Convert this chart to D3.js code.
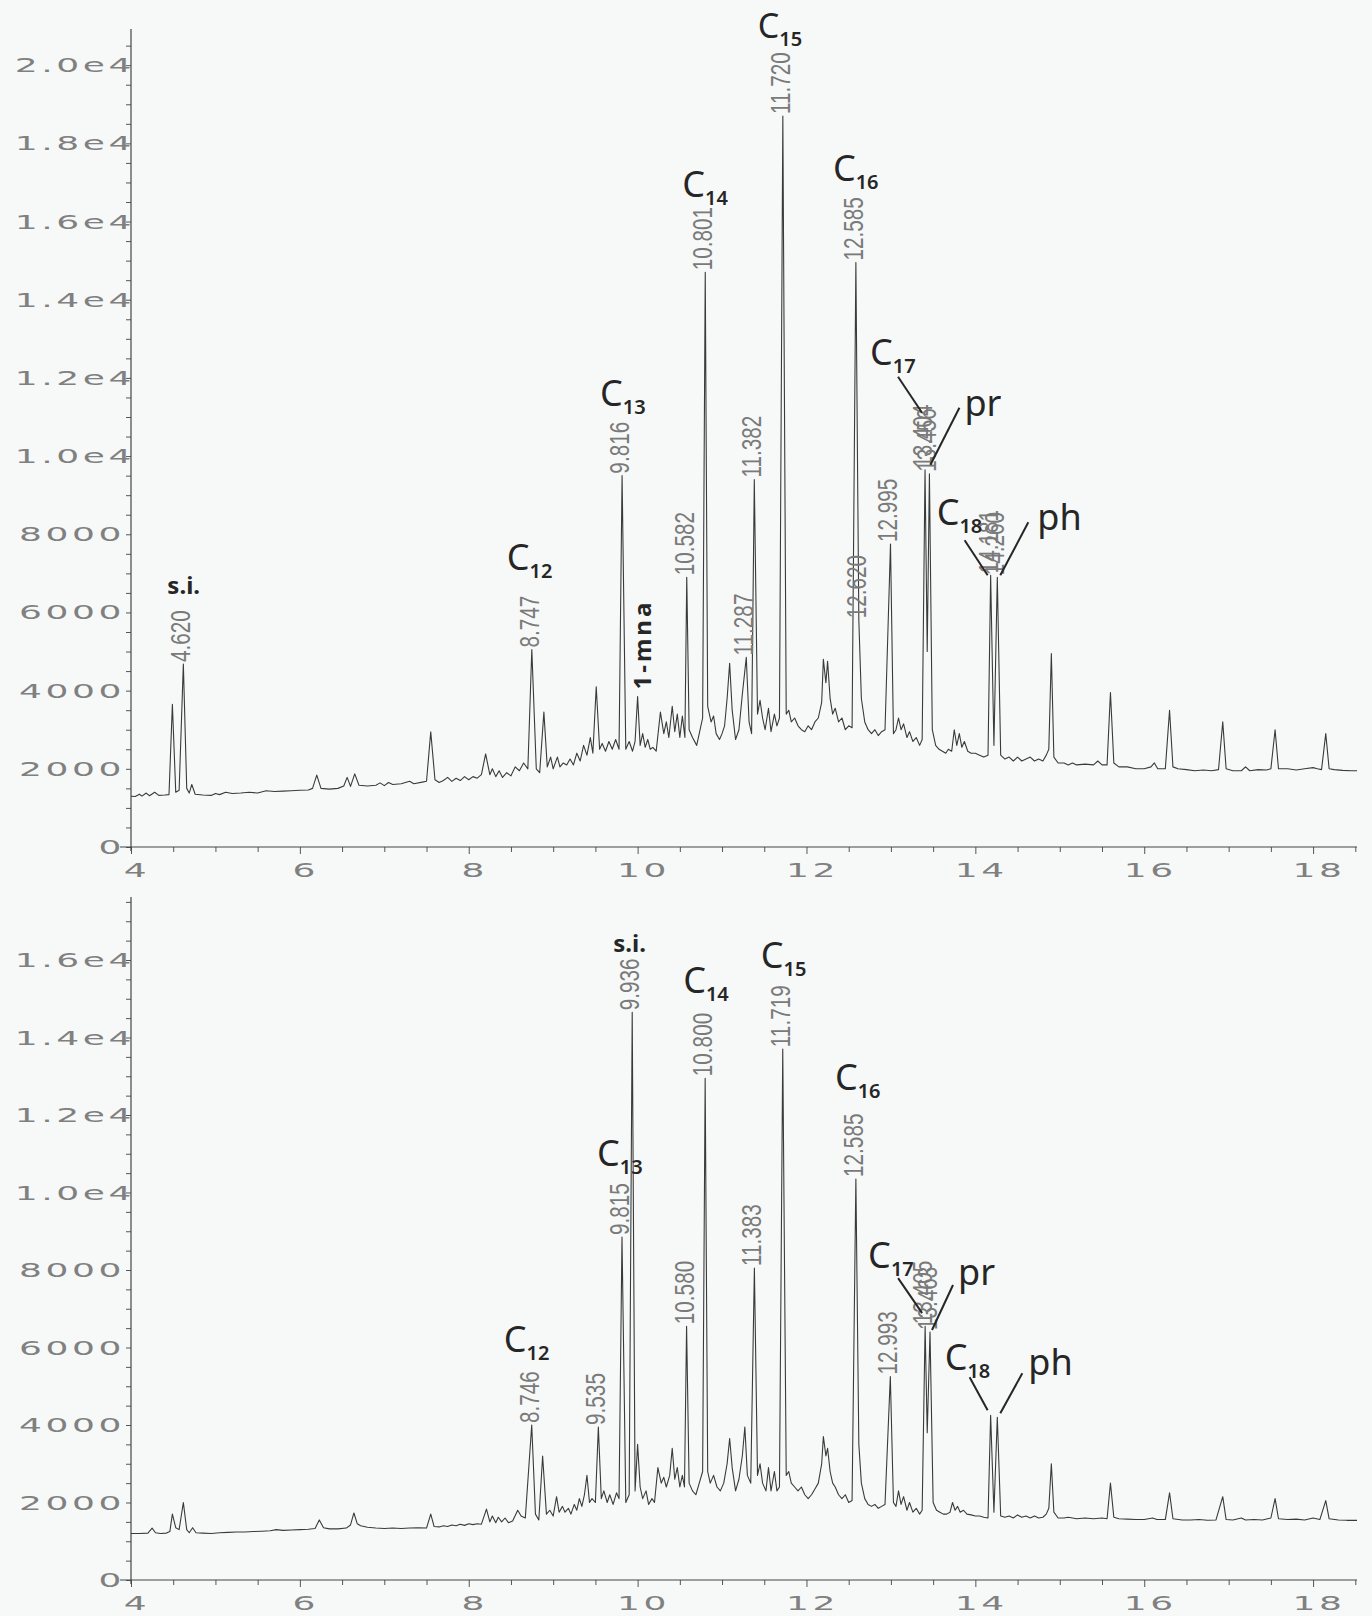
<!DOCTYPE html>
<html>
<head>
<meta charset="utf-8">
<script src="https://cdn.jsdelivr.net/npm/d3@7"></script>
<style>
body { margin: 0; background: #f7f9f8; }
</style>
</head>
<body>
<script>
// ---- data ----
var xTicks = [4, 6, 8, 10, 12, 14, 16, 18];
var topYTicks = [0, 2000, 4000, 6000, 8000, 10000, 12000, 14000, 16000, 18000, 20000];
var botYTicks = [0, 2000, 4000, 6000, 8000, 10000, 12000, 14000, 16000];

// [retention time (min), abundance]
var topTrace = [
[4.00,1300],[4.05,1290],[4.10,1350],[4.13,1300],[4.18,1380],[4.22,1310],[4.28,1400],[4.33,1320],[4.40,1330],[4.45,1340],
[4.49,3650],[4.53,1400],[4.57,1450],[4.62,4680],[4.66,1500],[4.69,1380],[4.72,1600],[4.76,1350],[4.85,1330],[4.95,1320],
[5.00,1370],[5.05,1340],[5.12,1400],[5.20,1370],[5.30,1380],[5.40,1400],[5.50,1380],[5.60,1440],[5.70,1420],[5.80,1430],
[5.90,1440],[6.00,1450],[6.10,1460],[6.15,1500],[6.20,1840],[6.25,1500],[6.35,1480],[6.45,1500],[6.52,1560],[6.56,1780],
[6.60,1550],[6.65,1870],[6.70,1580],[6.80,1560],[6.90,1580],[6.95,1640],[7.00,1570],[7.05,1650],[7.10,1600],[7.20,1620],
[7.30,1680],[7.35,1620],[7.45,1660],[7.50,1680],[7.55,2950],[7.60,1720],[7.65,1650],[7.70,1700],[7.75,1780],[7.80,1680],
[7.85,1760],[7.90,1700],[7.95,1800],[8.00,1720],[8.05,1800],[8.10,1760],[8.15,1850],[8.20,2380],[8.25,1850],[8.28,2000],
[8.32,1800],[8.36,1950],[8.40,1780],[8.45,1900],[8.50,1820],[8.55,2050],[8.60,1950],[8.65,2150],[8.70,2000],[8.747,5050],
[8.80,2000],[8.84,1900],[8.89,3450],[8.93,2050],[8.97,2300],[9.00,2000],[9.05,2300],[9.08,2050],[9.12,2150],[9.16,2100],
[9.20,2250],[9.24,2100],[9.28,2400],[9.32,2200],[9.36,2600],[9.40,2350],[9.44,2800],[9.47,2400],[9.51,4100],[9.55,2500],
[9.58,2650],[9.62,2450],[9.66,2700],[9.70,2500],[9.74,2750],[9.78,2500],[9.816,9500],[9.86,2500],[9.90,2700],[9.94,2450],
[9.97,2700],[10.00,3850],[10.03,2600],[10.06,2900],[10.09,2550],[10.12,2750],[10.15,2500],[10.18,2550],[10.22,2450],[10.27,3450],
[10.31,2900],[10.34,3200],[10.37,2800],[10.41,3600],[10.44,2950],[10.47,3400],[10.50,2800],[10.53,3350],[10.56,2800],[10.582,6900],
[10.61,3000],[10.65,2800],[10.70,2600],[10.74,3000],[10.77,3300],[10.801,14700],[10.83,3600],[10.87,3200],[10.90,3350],[10.93,2900],
[10.97,2750],[11.00,2900],[11.03,3100],[11.06,3800],[11.09,4700],[11.12,3500],[11.16,2750],[11.20,3000],[11.24,3900],[11.287,4850],
[11.32,3200],[11.35,2900],[11.382,9400],[11.42,3400],[11.45,3750],[11.48,3300],[11.51,3000],[11.55,3550],[11.58,2950],[11.62,3400],
[11.65,3100],[11.68,3300],[11.720,18700],[11.76,3400],[11.79,3500],[11.82,3200],[11.86,3300],[11.90,3100],[11.94,3000],[11.98,2950],
[12.02,3100],[12.06,3000],[12.10,3200],[12.14,3300],[12.18,3700],[12.20,4800],[12.23,4200],[12.25,4750],[12.28,3800],[12.31,3400],
[12.34,3550],[12.38,3200],[12.42,3300],[12.46,3000],[12.50,3100],[12.54,3050],[12.585,14950],[12.62,5800],[12.65,3800],[12.69,3200],
[12.73,3000],[12.77,2900],[12.81,3000],[12.85,2850],[12.89,2950],[12.93,3000],[12.995,7750],[13.03,2900],[13.06,3000],[13.09,3300],
[13.12,3000],[13.15,3150],[13.19,2800],[13.22,2950],[13.26,2700],[13.30,2800],[13.34,2600],[13.37,2750],[13.404,9650],[13.43,5000],
[13.456,9550],[13.49,3000],[13.53,2600],[13.57,2500],[13.61,2450],[13.65,2400],[13.68,2500],[13.72,2450],[13.75,3000],[13.78,2600],
[13.81,2900],[13.84,2550],[13.87,2700],[13.91,2450],[13.95,2400],[14.00,2400],[14.05,2350],[14.10,2300],[14.15,2350],[14.181,6950],
[14.22,2600],[14.260,6900],[14.30,2350],[14.35,2250],[14.40,2300],[14.45,2200],[14.50,2300],[14.55,2200],[14.60,2250],[14.65,2300],
[14.70,2200],[14.75,2250],[14.80,2200],[14.84,2350],[14.87,2500],[14.90,4950],[14.93,2300],[14.98,2150],[15.05,2150],[15.10,2100],
[15.15,2150],[15.20,2100],[15.30,2120],[15.40,2100],[15.45,2200],[15.50,2100],[15.56,2100],[15.60,3950],[15.64,2150],[15.70,2050],
[15.80,2050],[15.90,2000],[16.00,2000],[16.08,2050],[16.12,2150],[16.16,2000],[16.25,2000],[16.30,3500],[16.34,2050],[16.40,2000],
[16.50,1980],[16.60,1950],[16.70,1970],[16.80,1950],[16.88,1980],[16.93,3200],[16.97,2000],[17.05,1950],[17.15,1950],[17.20,2050],
[17.25,1950],[17.35,1980],[17.45,1970],[17.50,2000],[17.55,3000],[17.59,2000],[17.70,2000],[17.80,1970],[17.90,2000],[18.00,2030],
[18.05,2000],[18.10,1980],[18.15,2900],[18.19,2000],[18.25,1980],[18.35,1960],[18.45,1950],[18.52,1950]
];

var botTrace = [
[4.00,1200],[4.10,1200],[4.20,1210],[4.25,1340],[4.29,1220],[4.35,1200],[4.42,1210],[4.46,1250],[4.49,1700],[4.53,1350],
[4.57,1300],[4.62,2000],[4.66,1300],[4.69,1220],[4.73,1350],[4.77,1220],[4.85,1210],[4.95,1200],[5.05,1220],[5.15,1230],
[5.25,1240],[5.35,1240],[5.45,1250],[5.55,1260],[5.65,1270],[5.72,1300],[5.80,1280],[5.90,1290],[6.00,1300],[6.10,1310],
[6.18,1330],[6.23,1550],[6.28,1350],[6.35,1320],[6.45,1320],[6.55,1340],[6.60,1420],[6.64,1730],[6.68,1450],[6.72,1400],
[6.80,1360],[6.90,1340],[7.00,1330],[7.10,1340],[7.20,1330],[7.30,1340],[7.40,1350],[7.50,1340],[7.55,1700],[7.59,1380],
[7.65,1370],[7.70,1400],[7.75,1380],[7.80,1420],[7.85,1400],[7.90,1440],[7.95,1410],[8.00,1450],[8.05,1430],[8.10,1450],
[8.15,1440],[8.21,1830],[8.25,1500],[8.28,1650],[8.32,1480],[8.35,1620],[8.39,1500],[8.43,1600],[8.47,1480],[8.52,1520],
[8.58,1800],[8.62,1650],[8.67,1600],[8.746,4000],[8.79,1700],[8.83,1550],[8.875,3200],[8.92,1700],[8.96,1800],[9.00,1650],
[9.04,2150],[9.07,1750],[9.11,1900],[9.14,1750],[9.18,1850],[9.21,1700],[9.25,1950],[9.28,1800],[9.31,2100],[9.34,1900],
[9.37,2200],[9.40,2700],[9.43,2000],[9.46,2100],[9.50,2000],[9.535,3950],[9.57,2100],[9.60,2300],[9.64,2000],[9.67,2200],
[9.71,1950],[9.75,2250],[9.78,2100],[9.815,8850],[9.86,2000],[9.90,2200],[9.936,14650],[9.97,2300],[10.00,3500],[10.03,2400],
[10.06,2100],[10.10,2300],[10.13,1950],[10.17,2100],[10.20,2000],[10.24,2900],[10.28,2500],[10.31,2650],[10.34,2400],[10.38,2700],
[10.41,3400],[10.44,2600],[10.47,2900],[10.50,2400],[10.53,2700],[10.555,2400],[10.580,6550],[10.61,2500],[10.65,2300],[10.69,2200],
[10.73,2500],[10.77,2800],[10.800,12950],[10.83,2800],[10.86,2500],[10.90,2700],[10.94,2400],[10.98,2300],[11.02,2500],[11.06,3000],
[11.09,3650],[11.12,2900],[11.16,2300],[11.20,2600],[11.24,3200],[11.27,3950],[11.30,2700],[11.34,2500],[11.383,8050],[11.42,2700],
[11.45,3000],[11.48,2500],[11.52,2300],[11.55,2900],[11.58,2300],[11.62,2800],[11.65,2300],[11.68,2400],[11.719,13700],[11.76,2700],
[11.79,2800],[11.82,2500],[11.86,2400],[11.90,2300],[11.94,2400],[11.98,2200],[12.02,2100],[12.06,2200],[12.10,2350],[12.14,2500],
[12.18,3000],[12.20,3700],[12.23,3200],[12.25,3400],[12.28,2800],[12.31,2500],[12.34,2400],[12.38,2200],[12.42,2100],[12.46,2200],
[12.50,2000],[12.54,2050],[12.585,10350],[12.62,3500],[12.65,2500],[12.69,2100],[12.73,1950],[12.77,1900],[12.81,1950],[12.85,1850],
[12.89,1900],[12.93,1950],[12.993,5250],[13.03,2000],[13.06,1900],[13.09,2300],[13.12,1950],[13.15,2150],[13.19,1800],[13.22,2000],
[13.26,1750],[13.30,1850],[13.34,1700],[13.37,1800],[13.405,6550],[13.43,3800],[13.463,6400],[13.50,2000],[13.54,1800],[13.58,1750],
[13.62,1700],[13.66,1700],[13.70,1750],[13.73,2000],[13.76,1800],[13.79,1900],[13.82,1750],[13.86,1800],[13.90,1700],[13.95,1680],
[14.00,1650],[14.05,1650],[14.10,1620],[14.15,1600],[14.181,4250],[14.22,1750],[14.260,4200],[14.30,1650],[14.35,1620],[14.40,1650],
[14.45,1600],[14.50,1680],[14.55,1620],[14.60,1650],[14.65,1600],[14.70,1650],[14.75,1600],[14.80,1620],[14.84,1700],[14.87,1850],
[14.90,3000],[14.93,1750],[14.98,1600],[15.05,1600],[15.10,1620],[15.20,1580],[15.30,1600],[15.40,1580],[15.50,1600],[15.56,1580],
[15.60,2500],[15.64,1620],[15.70,1580],[15.80,1570],[15.90,1560],[16.00,1560],[16.10,1600],[16.15,1560],[16.25,1560],[16.30,2250],
[16.34,1580],[16.45,1550],[16.55,1550],[16.65,1560],[16.75,1540],[16.85,1550],[16.93,2150],[16.97,1560],[17.05,1550],[17.15,1600],
[17.20,1550],[17.30,1560],[17.40,1550],[17.50,1600],[17.55,2100],[17.59,1580],[17.70,1560],[17.80,1570],[17.90,1550],[18.00,1600],
[18.08,1560],[18.15,2050],[18.19,1580],[18.30,1550],[18.40,1540],[18.52,1540]
];

var topPeakLabels = ["4.620", "8.747", "9.816", "10.582", "10.801", "11.287", "11.382", "11.720", "12.585", "12.620", "12.995", "13.404", "13.456", "14.181", "14.260"];
var botPeakLabels = ["8.746", "9.535", "9.815", "9.936", "10.580", "10.800", "11.383", "11.719", "12.585", "12.993", "13.405", "13.463"];

// handwritten notes: [text, subscript, peak they point to]
var topNotes = [["s.i.", "", "4.620"], ["C", "12", "8.747"], ["1-mna", "", "10.00"], ["C", "13", "9.816"], ["C", "14", "10.801"],
  ["C", "15", "11.720"], ["C", "16", "12.585"], ["C", "17", "13.404"], ["pr", "", "13.456"], ["C", "18", "14.181"], ["ph", "", "14.260"]];
var botNotes = [["s.i.", "", "9.936"], ["C", "12", "8.746"], ["C", "13", "9.815"], ["C", "14", "10.800"], ["C", "15", "11.719"],
  ["C", "16", "12.585"], ["C", "17", "13.405"], ["pr", "", "13.463"], ["C", "18", "14.181"], ["ph", "", "14.260"]];

// ---- layout (pixel offsets of the notes relative to their peak top) ----
var topNoteLayout = [
  {dx: -16, dy: -70, size: 24}, {dx: -25, dy: -80, size: 36}, {dx: 13, dy: -7, size: 24, rotate: true},
  {dx: -22, dy: -70, size: 36}, {dx: -23, dy: -75, size: 36}, {dx: -25, dy: -78, size: 34}, {dx: -23, dy: -82, size: 36},
  {dx: -55, dy: -105, size: 36, leader: [-27, -93, -3, -57]}, {dx: 35, dy: -58, size: 36, leader: [30, -66, 1, -9]},
  {dx: -54, dy: -50, size: 36, leader: [-26, -35, -3, 0]}, {dx: 40, dy: -47, size: 36, leader: [31, -55, 3, -2]}
];
var botNoteLayout = [
  {dx: -19, dy: -60, size: 24}, {dx: -28, dy: -73, size: 36}, {dx: -25, dy: -71, size: 36}, {dx: -22, dy: -85, size: 36},
  {dx: -22, dy: -81, size: 36}, {dx: -21, dy: -89, size: 36},
  {dx: -57, dy: -58, size: 36, leader: [-27, -48, -3, -13]}, {dx: 28, dy: -47, size: 36, leader: [23, -47, 2, -2]},
  {dx: -46, dy: -45, size: 36, leader: [-21, -38, -3, -5]}, {dx: 31, dy: -42, size: 36, leader: [25, -44, 3, -4]}
];

var svg = d3.select("body").append("svg")
  .attr("width", 1372)
  .attr("height", 1616)
  .style("display", "block");

svg.append("rect").attr("width", 1372).attr("height", 1616).attr("fill", "#f7f9f8");

function yFmt(v) {
  return v >= 10000 ? (v / 10000).toFixed(1) + "e4" : String(v);
}

function valueAt(trace, t) {
  var best = trace[0];
  trace.forEach(function(p) { if (Math.abs(p[0] - t) < Math.abs(best[0] - t)) best = p; });
  return best[1];
}

function drawPanel(cfg) {
  var g = svg.append("g");
  var x = d3.scaleLinear().domain([4, 18.52]).range([131, 1357]);
  var y = d3.scaleLinear().domain([0, cfg.yMax]).range([cfg.y0, cfg.yTop]);

  // y axis (ticks every 500)
  var ya = g.append("g").attr("transform", "translate(131,0)")
    .call(d3.axisLeft(y).tickValues(d3.range(0, cfg.yMax, 500)).tickSize(5).tickFormat(""));
  ya.select(".domain").remove();
  ya.selectAll("line").attr("stroke", "#555");

  // x axis (ticks every half minute)
  var xa = g.append("g").attr("transform", "translate(0," + cfg.y0 + ")")
    .call(d3.axisBottom(x).tickValues(d3.range(4, 18.51, 0.5)).tickSize(5).tickFormat(""));
  xa.select(".domain").remove();
  xa.selectAll(".tick line").attr("stroke", "#555")
    .attr("y2", function(d) { return d % 2 === 0 ? 7 : 5; });

  g.append("line").attr("x1", 131).attr("x2", 131).attr("y1", cfg.y0 + 4).attr("y2", cfg.yTop - 1)
    .attr("stroke", "#444").attr("stroke-width", 1.2);
  g.append("line").attr("x1", 120).attr("x2", x(18.52)).attr("y1", cfg.y0).attr("y2", cfg.y0)
    .attr("stroke", "#444").attr("stroke-width", 1.2);

  // plotter style tick labels
  g.selectAll(".ylab").data(cfg.yTicks).enter().append("text")
    .attr("transform", function(d) {
      return "translate(" + (d >= 10000 ? 135 : 125) + "," + (y(d) + 7) + ") scale(1.8,1)";
    })
    .attr("text-anchor", "end")
    .attr("fill", "#808080")
    .style("font-family", "'DejaVu Sans', sans-serif")
    .style("font-size", "20px")
    .style("letter-spacing", "2px")
    .text(yFmt);

  g.selectAll(".xlab").data(xTicks).enter().append("text")
    .attr("transform", function(d) { return "translate(" + (x(d) + 6) + "," + (cfg.y0 + 30) + ") scale(1.8,1)"; })
    .attr("text-anchor", "middle")
    .attr("fill", "#808080")
    .style("font-family", "'DejaVu Sans', sans-serif")
    .style("font-size", "20px")
    .style("letter-spacing", "2px")
    .text(function(d) { return d; });

  // trace
  var line = d3.line().x(function(d) { return x(d[0]); }).y(function(d) { return y(d[1]); });
  g.append("path").datum(cfg.trace)
    .attr("d", line)
    .attr("fill", "none")
    .attr("stroke", "#3a3a3a")
    .attr("stroke-width", 1.1)
    .attr("stroke-linejoin", "round");

  // retention time labels
  cfg.labels.forEach(function(s) {
    var t = +s, px = x(t), py = y(valueAt(cfg.trace, t));
    g.append("text")
      .attr("transform", "translate(" + (px + 7) + "," + (py - 2) + ") rotate(-90) scale(0.74,1)")
      .attr("fill", "#7a7a7a")
      .style("font-family", "'Liberation Sans', Arial, sans-serif")
      .style("font-size", "28px")
      .text(s);
  });

  // handwritten notes
  cfg.notes.forEach(function(n, i) {
    var L = cfg.layout[i];
    var t = +n[2], px = x(t), py = y(valueAt(cfg.trace, t));
    var txt = g.append("text")
      .attr("fill", "#262626")
      .style("font-family", "'Noto Sans', 'Open Sans', sans-serif")
      .style("font-size", L.size + "px")
      .style("font-weight", L.size < 30 ? 700 : 400);
    if (L.rotate) {
      txt.attr("transform", "translate(" + (px + L.dx) + "," + (py + L.dy) + ") rotate(-90)")
        .style("letter-spacing", "3px");
    } else {
      txt.attr("x", px + L.dx).attr("y", py + L.dy);
    }
    txt.append("tspan").text(n[0]);
    if (n[1]) {
      txt.append("tspan").attr("dy", 8).style("font-size", "20px").style("font-weight", 600).text(n[1]);
    }
    if (L.leader) {
      g.append("line")
        .attr("x1", px + L.leader[0]).attr("y1", py + L.leader[1])
        .attr("x2", px + L.leader[2]).attr("y2", py + L.leader[3])
        .attr("stroke", "#262626").attr("stroke-width", 2);
    }
  });
}

drawPanel({ trace: topTrace, yTicks: topYTicks, yMax: 20900, y0: 847, yTop: 30,
  labels: topPeakLabels, notes: topNotes, layout: topNoteLayout });
drawPanel({ trace: botTrace, yTicks: botYTicks, yMax: 17600, y0: 1580, yTop: 898,
  labels: botPeakLabels, notes: botNotes, layout: botNoteLayout });
</script>
</body>
</html>
